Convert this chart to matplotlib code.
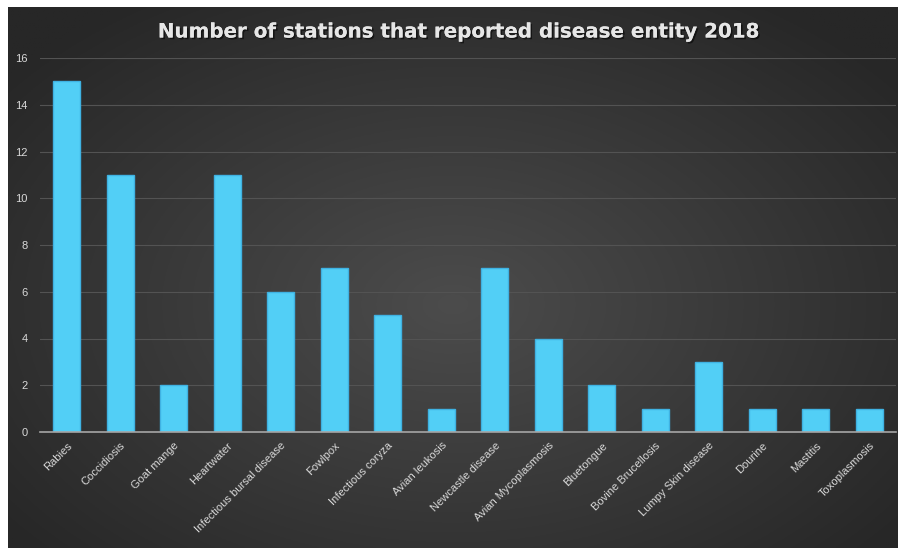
import matplotlib
matplotlib.use("Agg")
import matplotlib.pyplot as plt
import matplotlib.patheffects as pe
import numpy as np

# datos
enfermedades = ["Rabies", "Coccidiosis", "Goat mange", "Heartwater",
                "Infectious bursal disease", "Fowlpox", "Infectious coryza",
                "Avian leukosis", "Newcastle disease", "Avian Mycoplasmosis",
                "Bluetongue", "Bovine Brucellosis", "Lumpy Skin disease",
                "Dourine", "Mastitis", "Toxoplasmosis"]
estaciones = [15, 11, 2, 11, 6, 7, 5, 1, 7, 4, 2, 1, 3, 1, 1, 1]
yticks = [0, 2, 4, 6, 8, 10, 12, 14, 16]

W, H = 898, 548
fig = plt.figure(figsize=(W / 100, H / 100), dpi=100)
fig.patch.set_facecolor("white")

# fondo oscuro con degradado radial
bg = fig.add_axes([8 / W, 0, 1 - 8 / W, (H - 7) / H])
yy, xx = np.mgrid[0:1:300j, 0:1:500j]
r = np.sqrt(((xx - 0.5) / 0.75) ** 2 + ((yy - 0.45) / 0.8) ** 2)
r = np.clip(r / 0.85, 0, 1)
c_centro = np.array([0x4c, 0x4c, 0x4c]) / 255
c_borde = np.array([0x27, 0x27, 0x27]) / 255
img = c_centro[None, None, :] * (1 - r[..., None]) + c_borde[None, None, :] * r[..., None]
bg.imshow(img, aspect="auto", extent=[0, 1, 0, 1], origin="lower")
bg.set_axis_off()

ax = fig.add_axes([40 / W, 1 - 432 / H, (896 - 40) / W, (432 - 58) / H])
ax.set_facecolor("none")

x = np.arange(len(enfermedades))
ax.bar(x, estaciones, width=0.5, color="#52CFF6", edgecolor="#3FB2E2",
       linewidth=1, zorder=3)

ax.set_xlim(-0.5, len(enfermedades) - 0.5)
ax.set_ylim(0, 16)
ax.set_yticks(yticks)
ax.set_yticklabels([str(v) for v in yticks], fontsize=8, color="#d9d9d9",
                   family="Liberation Sans")
ax.set_xticks(x)
ax.set_xticklabels(enfermedades, rotation=45, ha="right", rotation_mode="anchor",
                   fontsize=8, color="#d9d9d9", family="Liberation Sans")
ax.tick_params(axis="both", length=0, pad=6)
ax.tick_params(axis="y", pad=9)

ax.grid(axis="y", color="#535353", linewidth=0.8, zorder=0)
for s in ["top", "right", "left"]:
    ax.spines[s].set_visible(False)
ax.spines["bottom"].set_color("#a6a6a6")
ax.spines["bottom"].set_linewidth(1.2)
ax.spines["bottom"].set_zorder(4)

fig.text(459 / W, 1 - 32 / H, "Number of stations that reported disease entity 2018",
         ha="center", va="center", fontsize=14.3, fontweight="bold",
         color="#e6e6e6", family="DejaVu Sans",
         path_effects=[pe.withSimplePatchShadow(offset=(1.2, -1.2), shadow_rgbFace="black", alpha=0.55),
                       pe.Normal()])

fig.savefig("out.png", dpi=100, facecolor=fig.get_facecolor())
